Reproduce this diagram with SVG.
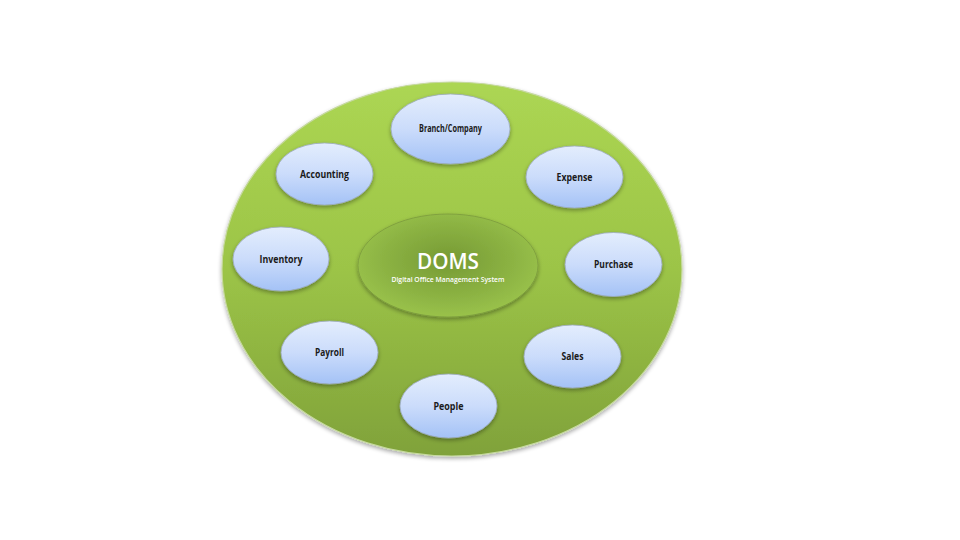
<svg xmlns="http://www.w3.org/2000/svg" width="960" height="540" viewBox="0 0 960 540">
  <defs>
    <linearGradient id="gBig" x1="0" y1="0" x2="0" y2="1">
      <stop offset="0" stop-color="#acd653"/>
      <stop offset="0.5" stop-color="#9cc447"/>
      <stop offset="1" stop-color="#80a23a"/>
    </linearGradient>
    <radialGradient id="gCore" cx="0.5" cy="0.45" r="0.6">
      <stop offset="0" stop-color="#769a34"/>
      <stop offset="0.6" stop-color="#8cb343"/>
      <stop offset="1" stop-color="#9dc64c"/>
    </radialGradient>
    <linearGradient id="gNode" x1="0" y1="0" x2="0" y2="1">
      <stop offset="0" stop-color="#e3edfd"/>
      <stop offset="0.5" stop-color="#cbdcfb"/>
      <stop offset="1" stop-color="#a4c2f6"/>
    </linearGradient>
    <filter id="sh" x="-20%" y="-20%" width="140%" height="150%">
      <feGaussianBlur in="SourceAlpha" stdDeviation="2"/>
      <feOffset dx="0" dy="2" result="b"/>
      <feComponentTransfer><feFuncA type="linear" slope="0.35"/></feComponentTransfer>
      <feMerge><feMergeNode/><feMergeNode in="SourceGraphic"/></feMerge>
    </filter>
  </defs>
  <style>
    .node { fill: url(#gNode); stroke: #9aa9bd; stroke-width: 0.8; filter: url(#sh); }
    .lbl { font-family: "Open Sans", "Liberation Sans", sans-serif; font-weight: bold; font-size: 10px; fill: #1a1a1a; text-anchor: middle; }
  </style>
  <rect width="960" height="540" fill="#ffffff"/>
  <g id="base">
    <ellipse cx="452" cy="269" rx="230" ry="187" fill="url(#gBig)" stroke="#c6d9a0" stroke-width="1.2" filter="url(#sh)"/>
  </g>
  <g id="connectors"></g>
  <g id="doms">
    <ellipse cx="448" cy="265.5" rx="90" ry="51.5" fill="url(#gCore)" stroke="#7b9a3e" stroke-width="0.8" filter="url(#sh)"/>
    <text x="448" y="268.5" font-family="Open Sans, Liberation Sans, sans-serif" font-size="22" font-weight="600" fill="#ffffff" text-anchor="middle" textLength="62" lengthAdjust="spacingAndGlyphs">DOMS</text>
    <text x="448" y="282" font-family="Open Sans, Liberation Sans, sans-serif" font-size="7" font-weight="600" fill="#ffffff" text-anchor="middle" textLength="113" lengthAdjust="spacingAndGlyphs">Digital Office Management System</text>
  </g>
  <g id="branch">
    <ellipse class="node" cx="450.5" cy="129" rx="59.5" ry="35"/>
    <text class="lbl" x="450.5" y="132" font-size="9" textLength="63" lengthAdjust="spacingAndGlyphs">Branch/Company</text>
  </g>
  <g id="accounting">
    <ellipse class="node" cx="324.5" cy="174" rx="48.5" ry="31"/>
    <text class="lbl" x="324.5" y="177.5" textLength="49" lengthAdjust="spacingAndGlyphs">Accounting</text>
  </g>
  <g id="expense">
    <ellipse class="node" cx="574.5" cy="177" rx="48.5" ry="31"/>
    <text class="lbl" x="574.5" y="180.5" textLength="36" lengthAdjust="spacingAndGlyphs">Expense</text>
  </g>
  <g id="inventory">
    <ellipse class="node" cx="281" cy="259" rx="48" ry="32"/>
    <text class="lbl" x="281" y="262.5" textLength="43" lengthAdjust="spacingAndGlyphs">Inventory</text>
  </g>
  <g id="purchase">
    <ellipse class="node" cx="613.5" cy="264.5" rx="48.5" ry="32"/>
    <text class="lbl" x="613.5" y="268" textLength="39" lengthAdjust="spacingAndGlyphs">Purchase</text>
  </g>
  <g id="payroll">
    <ellipse class="node" cx="329.5" cy="352.5" rx="48.5" ry="31.5"/>
    <text class="lbl" x="329.5" y="356" textLength="29" lengthAdjust="spacingAndGlyphs">Payroll</text>
  </g>
  <g id="sales">
    <ellipse class="node" cx="572.5" cy="356.5" rx="48.5" ry="31.5"/>
    <text class="lbl" x="572.5" y="360" textLength="22" lengthAdjust="spacingAndGlyphs">Sales</text>
  </g>
  <g id="people">
    <ellipse class="node" cx="448.5" cy="406" rx="48.5" ry="32"/>
    <text class="lbl" x="448.5" y="409.5" textLength="30" lengthAdjust="spacingAndGlyphs">People</text>
  </g>
</svg>
